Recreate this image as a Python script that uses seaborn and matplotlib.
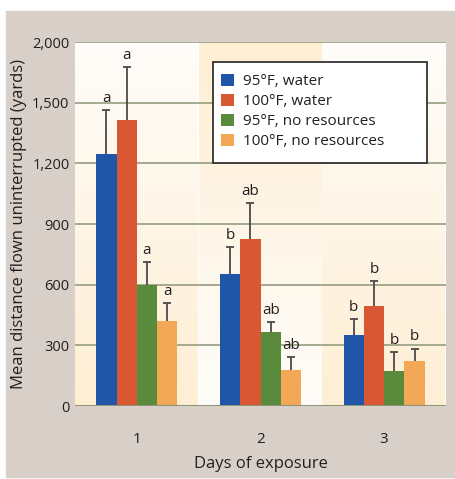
import numpy as np
import pandas as pd
import seaborn as sns
import matplotlib.pyplot as plt

days = ['1', '2', '3']
treatments = ['95°F, water', '100°F, water', '95°F, no resources', '100°F, no resources']
colors = ['#1f56a8', '#d95732', '#5a8a3c', '#f2a856']

# mean distance per treatment, one value per day
means = {
    '95°F, water': [1245, 655, 350],
    '100°F, water': [1414, 825, 494],
    '95°F, no resources': [600, 365, 172],
    '100°F, no resources': [419, 177, 221],
}
# top of the error bar (mean + error)
err_tops = {
    '95°F, water': [1464, 787, 428],
    '100°F, water': [1794, 1005, 619],
    '95°F, no resources': [710, 415, 266],
    '100°F, no resources': [510, 240, 284],
}
letters = {
    '95°F, water': ['a', 'b', 'b'],
    '100°F, water': ['a', 'ab', 'b'],
    '95°F, no resources': ['a', 'ab', 'b'],
    '100°F, no resources': ['a', 'ab', 'b'],
}
y_ticks = [0, 300, 600, 900, 1200, 1500, 2000]

rows = []
for t in treatments:
    for d, m in zip(days, means[t]):
        rows.append({'day': d, 'treatment': t, 'mean': m})
df = pd.DataFrame(rows)

text_col = '#231f20'
grid_col = '#8c9677'

plt.rcParams['font.family'] = ['Open Sans', 'DejaVu Sans']

fig = plt.figure(figsize=(4.55, 4.79), dpi=100)
fig.patches.append(plt.Rectangle((6 / 455, 2 / 479), 1, 466 / 479, transform=fig.transFigure,
                                 color='#d9cfc9', zorder=-10))
ax = fig.add_axes([75 / 455, 73 / 479, 371 / 455, 364 / 479])


# the axis above 1,500 is squeezed (2,000 sits one step above 1,500)
def fwd(y):
    y = np.asarray(y, dtype=float)
    return np.where(y <= 1500, y, 1500 + (y - 1500) * 0.6)


def inv(y):
    y = np.asarray(y, dtype=float)
    return np.where(y <= 1500, y, 1500 + (y - 1500) / 0.6)


sns.barplot(data=df, x='day', y='mean', hue='treatment', hue_order=treatments,
            palette=colors, errorbar=None, width=0.655, saturation=1, ax=ax, zorder=3)
ax.set_yscale('function', functions=(fwd, inv))

# gradient bands behind each day group
cream = np.array([254, 238, 212]) / 255
white = np.array([255, 253, 249]) / 255
g = np.linspace(0, 1, 100)[:, None]
for i in range(3):
    top, bot = (cream, white) if i == 1 else (white, cream)
    img = (top[None, :] * (1 - g) + bot[None, :] * g)[:, None, :]
    ax.imshow(img, extent=[i - 0.5, i + 0.5, 0, 1], transform=ax.get_xaxis_transform(),
              aspect='auto', zorder=0)
ax.set_xlim(-0.5, 2.5)
ax.set_ylim(0, 2000)

for yv in y_ticks[1:]:
    ax.axhline(yv, color=grid_col, lw=1.1, zorder=1)
ax.axhline(0, color=grid_col, lw=2.2, zorder=4)

for cont, t in zip(ax.containers, treatments):
    for bar, top, lab in zip(cont, err_tops[t], letters[t]):
        xc = bar.get_x() + bar.get_width() / 2
        h = bar.get_height()
        eb = ax.errorbar([xc], [h], yerr=[[0], [top - h]], fmt='none', ecolor='#4a4a4a',
                         elinewidth=1.3, capsize=3.2, capthick=1.3, zorder=2.5)
        eb[1][0].set_visible(False)  # no cap at the bar top
        ax.annotate(lab, (xc, top), xytext=(0, 3), textcoords='offset points',
                    ha='center', va='bottom', fontsize=11, color=text_col)

for s in ax.spines.values():
    s.set_visible(False)
ax.set_yticks(y_ticks)
ax.set_yticklabels([f'{v:,}' for v in y_ticks])
ax.tick_params(axis='both', length=0, labelsize=10.5, colors=text_col)
ax.tick_params(axis='x', pad=19, labelsize=11)
ax.tick_params(axis='y', pad=4)
ax.set_xlabel('Days of exposure', fontsize=12, color=text_col, labelpad=6)
ax.set_ylabel('Mean distance flown uninterrupted (yards)', fontsize=12, color=text_col, labelpad=4)

# legend box drawn separately so it can be wider than its text
ax.add_patch(plt.Rectangle((0.372, 0.668), 0.577, 0.277, transform=ax.transAxes,
                           facecolor='white', edgecolor='#333333', lw=1.3, zorder=9))
handles, labels = ax.get_legend_handles_labels()
leg = ax.legend(handles, labels, loc='upper left', bbox_to_anchor=(0.366, 0.942),
                fontsize=11, frameon=False, handlelength=0.85, handleheight=0.85,
                handletextpad=0.55, borderpad=0.2, labelspacing=0.3, labelcolor=text_col)
leg.set_zorder(10)

fig.savefig('out.png', dpi=100)
